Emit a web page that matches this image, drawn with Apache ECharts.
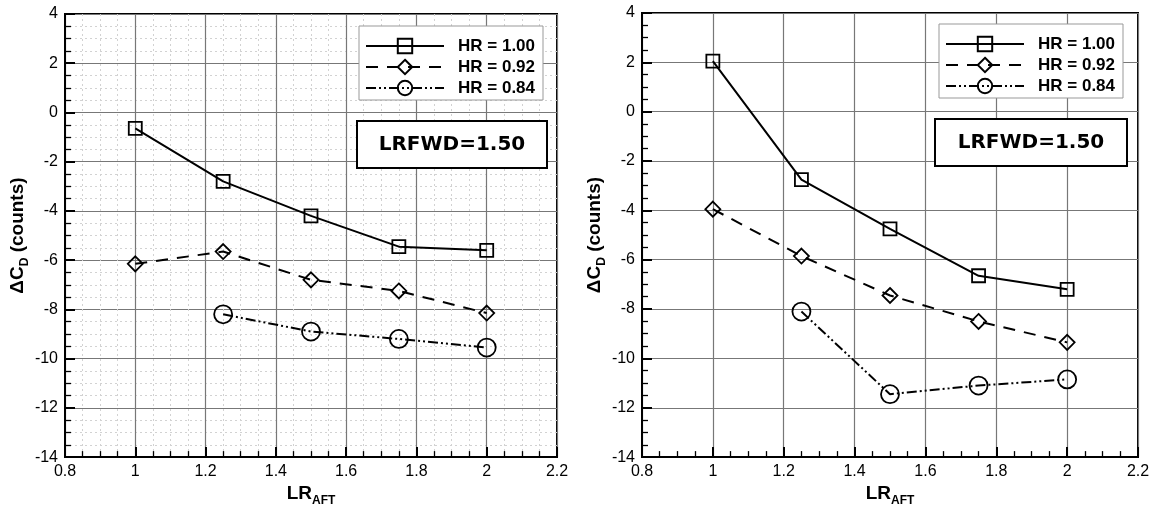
<!DOCTYPE html>
<html>
<head>
<meta charset="utf-8">
<script src="https://cdn.jsdelivr.net/npm/echarts@6/dist/echarts.min.js"></script>
<style>html, body { margin: 0; padding: 0; background: #fff; }</style>
</head>
<body>
<div id="chart" style="width:1156px;height:512px;"></div>
<script>
    // LR_AFT positions, same for both panels
    const lrAft = [1, 1.25, 1.5, 1.75, 2];
    const xTicks = [0.8, 1, 1.2, 1.4, 1.6, 1.8, 2, 2.2];
    const yTicks = [-14, -12, -10, -8, -6, -4, -2, 0, 2, 4];
    const hrNames = ['HR = 1.00', 'HR = 0.92', 'HR = 0.84'];
    const boxLabel = 'LRFWD=1.50';

    // left panel
    const leftHR100 = [-0.65, -2.8, -4.2, -5.45, -5.6];
    const leftHR092 = [-6.15, -5.65, -6.8, -7.25, -8.15];
    const leftHR084 = [null, -8.2, -8.9, -9.2, -9.55];

    // right panel
    const rightHR100 = [2.05, -2.75, -4.75, -6.65, -7.2];
    const rightHR092 = [-3.95, -5.85, -7.45, -8.5, -9.35];
    const rightHR084 = [null, -8.1, -11.45, -11.1, -10.85];

    const FONT = '"Liberation Sans", Arial, sans-serif';

    const looks = [
        { symbol: 'rect', symbolSize: 13, type: 'solid' },
        { symbol: 'diamond', symbolSize: 15, type: [12, 9] },
        { symbol: 'circle', symbolSize: 18, type: [10, 3, 2, 3, 2, 3] }
    ];

    function pairs(values) {
        return lrAft.map((x, i) => [x, values[i]]).filter(p => p[1] !== null);
    }

    function makeSeries(panel, values) {
        return values.map((v, k) => ({
            type: 'line',
            name: hrNames[k],
            xAxisIndex: panel,
            yAxisIndex: panel,
            data: pairs(v),
            symbol: looks[k].symbol,
            symbolSize: looks[k].symbolSize,
            lineStyle: { color: '#000', width: 2, type: looks[k].type },
            itemStyle: { color: 'rgba(0,0,0,0)', borderColor: '#000', borderWidth: 1.8 },
            emphasis: { disabled: true },
            z: 3
        }));
    }

    const nameRich = {
        m: { fontFamily: FONT, fontSize: 19, fontWeight: 'bold', color: '#000', verticalAlign: 'top', lineHeight: 20 },
        s: { fontFamily: FONT, fontSize: 12, fontWeight: 'bold', color: '#000', verticalAlign: 'top', padding: [11, 0, 0, 0] }
    };

    function xAxis(panel, minorGrid) {
        return {
            type: 'value',
            gridIndex: panel,
            min: xTicks[0],
            max: xTicks[xTicks.length - 1],
            interval: 0.2,
            name: '{m|LR}{s|AFT}',
            nameLocation: 'middle',
            nameGap: 24,
            nameTextStyle: { rich: nameRich },
            axisLine: { show: true, onZero: false, lineStyle: { color: '#000', width: 2 } },
            axisTick: { show: true, inside: true, length: 10, lineStyle: { color: '#000', width: 2 } },
            minorTick: { show: true, splitNumber: 4, length: 6, lineStyle: { color: '#000', width: 1.3 } },
            axisLabel: { color: '#000', fontFamily: FONT, fontSize: 16, margin: 6 },
            splitLine: { show: true, lineStyle: { color: '#777', width: 1.2 } },
            minorSplitLine: { show: minorGrid, lineStyle: { color: '#d2d2d2', width: 1, type: [2, 3] } }
        };
    }

    function yAxis(panel, minorGrid) {
        return {
            type: 'value',
            gridIndex: panel,
            min: yTicks[0],
            max: yTicks[yTicks.length - 1],
            interval: 2,
            name: '{m|ΔC}{s|D}{m| (counts)}',
            nameLocation: 'middle',
            nameRotate: 90,
            nameGap: 33,
            nameTextStyle: { rich: nameRich },
            axisLine: { show: true, onZero: false, lineStyle: { color: '#000', width: 2 } },
            axisTick: { show: true, inside: true, length: 10, lineStyle: { color: '#000', width: 2 } },
            minorTick: { show: true, splitNumber: 4, length: 6, lineStyle: { color: '#000', width: 1.3 } },
            axisLabel: { color: '#000', fontFamily: FONT, fontSize: 16, margin: 7 },
            splitLine: { show: true, lineStyle: { color: '#777', width: 1.2 } },
            minorSplitLine: { show: minorGrid, lineStyle: { color: '#d2d2d2', width: 1, type: [2, 3] } }
        };
    }

    function legend(left, top) {
        return {
            data: hrNames,
            left: left,
            top: top,
            orient: 'vertical',
            backgroundColor: '#fff',
            borderColor: '#999',
            borderWidth: 1,
            padding: [11, 8, 3, 6],
            itemWidth: 78,
            itemHeight: 18,
            itemGap: 3,
            selectedMode: false,
            textStyle: { fontFamily: FONT, fontSize: 17, fontWeight: 'bold', color: '#000', lineHeight: 18, padding: [0, 0, 0, 9] }
        };
    }

    function labelBox(left, top, w, h) {
        return {
            type: 'group',
            left: left,
            top: top,
            z: 100,
            children: [
                { type: 'rect', z: 100, shape: { x: 0, y: 0, width: w, height: h }, style: { fill: '#fff', stroke: '#000', lineWidth: 2 } },
                {
                    type: 'text', z: 101, x: w / 2, y: h / 2,
                    style: {
                        text: boxLabel, fontFamily: '"DejaVu Sans", Verdana, sans-serif', fontSize: 20, fontWeight: 'bold',
                        fill: '#000', align: 'center', verticalAlign: 'middle'
                    }
                }
            ]
        };
    }

    const myChart = echarts.init(document.getElementById('chart'));

    const option = {
        animation: false,
        backgroundColor: '#fff',
        grid: [
            { left: 65, top: 14, width: 492, height: 450, show: true, borderColor: '#000', borderWidth: 2 },
            { left: 642, top: 13, width: 496, height: 452, show: true, borderColor: '#000', borderWidth: 2 }
        ],
        xAxis: [xAxis(0, true), xAxis(1, false)],
        yAxis: [yAxis(0, true), yAxis(1, false)],
        legend: [legend(359, 26), legend(939, 24)],
        graphic: [labelBox(356, 120, 190, 47), labelBox(934, 118, 192, 47)],
        series: [
            ...makeSeries(0, [leftHR100, leftHR092, leftHR084]),
            ...makeSeries(1, [rightHR100, rightHR092, rightHR084])
        ]
    };

    myChart.setOption(option);
</script>
</body>
</html>
